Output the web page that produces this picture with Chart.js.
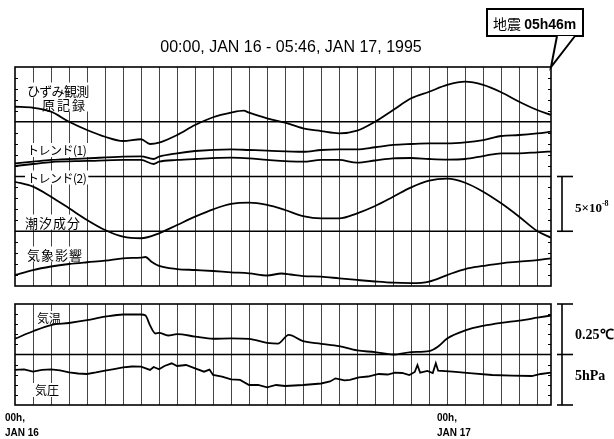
<!DOCTYPE html>
<html>
<head>
<meta charset="utf-8">
<script src="https://cdn.jsdelivr.net/npm/chart.js@4.4.1/dist/chart.umd.min.js"></script>
<style>
  body { margin: 0; background: #fff; }
  #wrap { position: relative; width: 614px; height: 439px; overflow: hidden; }
  canvas { position: absolute; left: 0; top: 0; }
  .t { position: absolute; white-space: nowrap; line-height: 1; color: #000; transform: translateY(-50%); }
  .jp { font-family: "Noto Sans CJK JP", sans-serif; font-size: 13px; }
  .sc { font-family: "Liberation Serif", serif; font-weight: bold; font-size: 14px; }
  .dt { font-family: "Liberation Sans", Arial, sans-serif; font-weight: bold; font-size: 10px; line-height: 15px; transform: none; }
  #title { font-family: "Liberation Sans", sans-serif; font-size: 16px; transform: translate(-50%, -50%); }
  #quake { font-size: 14px; }
  #quake b { font-family: "Liberation Sans", sans-serif; font-size: 14px; }
</style>
</head>
<body>
<div id="wrap">
  <canvas id="topChart" width="614" height="439"></canvas>
  <canvas id="botChart" width="614" height="439"></canvas>

  <div class="t" id="title" style="left:291px; top:47px;">00:00, JAN 16 - 05:46, JAN 17, 1995</div>
  <div class="t jp" id="quake" style="left:493px; top:23px;">地震 <b>05h46m</b></div>

  <div class="t jp mask" style="left:27px; top:90px; letter-spacing:-0.7px;">ひずみ観測</div>
  <div class="t jp mask" style="left:42px; top:104px; letter-spacing:2px;">原記録</div>
  <div class="t jp mask" style="left:27px; top:150px; font-size:12px; letter-spacing:-0.5px;">トレンド(1)</div>
  <div class="t jp mask" style="left:27px; top:177.5px; font-size:12px; letter-spacing:-0.5px;">トレンド(2)</div>
  <div class="t jp mask" style="left:25px; top:222px; letter-spacing:1px;">潮汐成分</div>
  <div class="t jp mask" style="left:27px; top:254px; letter-spacing:1px;">気象影響</div>
  <div class="t jp mask" style="left:37px; top:318px; font-size:12px;">気温</div>
  <div class="t jp mask" style="left:35px; top:390px; font-size:12px;">気圧</div>

  <div class="t sc" style="left:575px; top:207px; font-size:13px;">5×10<sup style="font-size:8px;">-8</sup></div>
  <div class="t sc" style="left:575px; top:335px;">0.25℃</div>
  <div class="t sc" style="left:575px; top:376px;">5hPa</div>

  <div class="t dt" style="left:5px; top:410px;">00h,<br>JAN 16</div>
  <div class="t dt" style="left:437px; top:410px;">00h,<br>JAN 17</div>
</div>

<script>
var END_HOUR = 29 + 46 / 60;

// strain traces, in units of 1e-8 (top panel 0..20, one band = 5)
var rawHours = [0, 1, 2, 3, 4, 5, 6, 7, 7.5, 8, 9, 10, 11, 12, 12.7, 13, 14, 15, 16, 17, 18, 19, 20, 21, 22, 23, 24, 25, 26, 27, 28, 29, END_HOUR];
var rawValues = [16.37, 16.28, 15.92, 15.00, 14.25, 13.63, 13.24, 13.40, 12.97, 13.09, 13.79, 14.70, 15.41, 15.83, 16.01, 15.83, 15.31, 14.91, 14.40, 14.15, 13.94, 14.18, 15.00, 16.07, 17.14, 17.74, 18.36, 18.66, 18.36, 17.69, 16.83, 16.07, 15.62];

var trendHours = [0, 1, 2, 4, 6, 7, 7.7, 8, 9, 10, 12, 13, 14, 16, 17, 18, 19, 20, 21, 22, 23, 24, 25, 26, 27, 28, 29, END_HOUR];
var trend1Values = [11.19, 11.35, 11.51, 11.66, 11.81, 11.83, 11.60, 11.81, 12.12, 12.33, 12.48, 12.42, 12.36, 12.26, 12.42, 12.48, 12.48, 12.67, 12.88, 12.97, 13.03, 13.03, 13.12, 13.33, 13.70, 13.79, 13.94, 14.09];
var trend2Values = [10.96, 11.14, 11.32, 11.42, 11.51, 11.51, 11.14, 11.35, 11.51, 11.60, 11.72, 11.66, 11.51, 11.35, 11.51, 11.51, 11.26, 11.46, 11.66, 11.69, 11.60, 11.55, 11.60, 11.87, 12.12, 12.12, 12.21, 12.28];

var tideHours = [0, 1, 2, 3, 4, 5, 6, 7, 8, 9, 10, 11, 12, 13, 14, 15, 16, 17, 18, 19, 20, 21, 22, 23, 24, 25, 26, 27, 28, 29, END_HOUR];
var tideValues = [9.52, 9.07, 8.15, 7.10, 6.03, 5.11, 4.50, 4.36, 4.81, 5.57, 6.33, 7.00, 7.49, 7.61, 7.40, 6.94, 6.39, 6.18, 6.18, 6.64, 7.31, 8.15, 9.01, 9.62, 9.80, 9.43, 8.61, 7.55, 6.33, 5.02, 4.41];

var weatherHours = [0, 1, 2, 3, 4, 5, 6, 7, 7.25, 7.6, 8, 9, 10, 11, 12, 13, 14, 14.8, 15.3, 16, 17, 18, 19, 20, 21, 22, 23, 24, 25, 26, 27, 28, 29, END_HOUR];
var weatherValues = [1.00, 1.46, 1.78, 2.01, 2.17, 2.31, 2.53, 2.60, 2.65, 2.19, 1.83, 1.55, 1.46, 1.37, 1.25, 1.16, 0.96, 1.14, 1.05, 0.91, 0.85, 0.70, 0.55, 0.41, 0.30, 0.27, 0.41, 1.00, 1.55, 1.83, 2.07, 2.22, 2.37, 2.53];

// air temperature, degC above the panel midline (one band = 0.25 degC)
var tempHours = [0, 1, 2, 3, 4, 5, 6, 7, 7.25, 7.5, 7.8, 8, 8.5, 9, 10, 11, 12, 13, 14, 14.6, 15.2, 16, 17, 18, 19, 20, 21, 22, 23, 23.5, 24, 25, 26, 27, 28, 29, END_HOUR];
var tempValues = [0.078, 0.115, 0.146, 0.156, 0.170, 0.187, 0.198, 0.198, 0.193, 0.144, 0.104, 0.107, 0.094, 0.101, 0.089, 0.078, 0.080, 0.077, 0.058, 0.054, 0.097, 0.066, 0.053, 0.041, 0.020, 0.012, 0.000, 0.012, 0.017, 0.040, 0.079, 0.119, 0.142, 0.157, 0.168, 0.182, 0.193];

// air pressure, hPa above the panel bottom (one band = 5 hPa)
var presHours = [0, 0.5, 1, 1.5, 2, 2.5, 3, 3.5, 4, 4.5, 5, 5.5, 6, 6.5, 7, 7.3, 7.5, 7.7, 8, 8.3, 8.7, 9, 9.5, 10, 10.5, 10.8, 11, 11.5, 12, 12.5, 13, 13.5, 14, 14.5, 15, 15.5, 16, 17, 17.5, 17.8, 18.3, 18.6, 19.1, 19.6, 20.2, 20.7, 21.1, 21.5, 21.9, 22.2, 22.35, 22.5, 22.9, 23.2, 23.37, 23.5, 24.3, 25.4, 26.5, 27.6, 28.7, 29.2, END_HOUR];
var presValues = [3.47, 3.53, 3.30, 3.47, 3.53, 3.42, 3.24, 3.12, 3.07, 3.22, 3.40, 3.56, 3.73, 3.81, 3.79, 3.61, 3.47, 3.76, 3.53, 3.86, 4.13, 3.86, 3.96, 3.63, 3.30, 3.51, 2.97, 2.80, 2.54, 2.48, 1.98, 1.98, 1.75, 1.98, 1.88, 1.93, 1.98, 2.13, 2.33, 2.64, 2.43, 2.48, 2.74, 2.82, 3.07, 3.02, 3.20, 3.17, 2.97, 3.27, 3.96, 3.20, 3.37, 3.17, 4.13, 3.40, 3.30, 3.14, 2.97, 2.90, 2.87, 3.07, 3.20];

function pairs(hours, values, f) {
  return hours.map(function(h, i) {
    return { x: h, y: f ? f(values[i]) : values[i] };
  });
}

// white boxes behind the labels that sit inside the panels
var masks = [];
document.querySelectorAll('.mask').forEach(function(el) {
  var r = el.getBoundingClientRect();
  masks.push([r.left - 2, r.top - 1, r.width + 4, r.height + 2]);
});

var gridPlugin = {
  id: 'grid',
  beforeDatasetsDraw: function(chart, args, opts) {
    var ctx = chart.ctx, a = chart.chartArea, x = chart.scales.x, y = chart.scales.y;
    ctx.save();
    ctx.beginPath();
    ctx.rect(a.left, a.top, a.width, a.height);
    ctx.clip();
    ctx.strokeStyle = '#444';
    ctx.lineWidth = 1;
    for (var h = 1; h <= 29; h++) {
      var px = Math.round(x.getPixelForValue(h)) + 0.5;
      ctx.beginPath(); ctx.moveTo(px, a.top); ctx.lineTo(px, a.bottom); ctx.stroke();
    }
    ctx.strokeStyle = '#000';
    for (var v = 1; v < y.max; v++) {
      if (v % opts.band === 0) continue;
      var py = Math.round(y.getPixelForValue(v)) + 0.5;
      ctx.beginPath(); ctx.moveTo(a.left, py); ctx.lineTo(a.left + 3, py); ctx.stroke();
      ctx.beginPath(); ctx.moveTo(a.right - 3, py); ctx.lineTo(a.right, py); ctx.stroke();
    }
    ctx.lineWidth = 1.6;
    for (var b = opts.band; b < y.max; b += opts.band) {
      var by = y.getPixelForValue(b);
      ctx.beginPath(); ctx.moveTo(a.left, by); ctx.lineTo(a.right, by); ctx.stroke();
    }
    ctx.fillStyle = '#fff';
    masks.forEach(function(m) { ctx.fillRect(m[0], m[1], m[2], m[3]); });
    ctx.restore();
  },
  afterDraw: function(chart, args, opts) {
    var ctx = chart.ctx, a = chart.chartArea, y = chart.scales.y;
    ctx.save();
    ctx.strokeStyle = '#000';
    ctx.lineWidth = 1.6;
    ctx.strokeRect(a.left, a.top, a.width, a.height);
    // scale bar on the right
    var bx = 562;
    var ys = opts.bar.map(function(v) { return y.getPixelForValue(v); });
    ctx.beginPath(); ctx.moveTo(bx, ys[0]); ctx.lineTo(bx, ys[ys.length - 1]); ctx.stroke();
    ys.forEach(function(py) {
      ctx.beginPath(); ctx.moveTo(bx - 5, py); ctx.lineTo(bx + 11, py); ctx.stroke();
    });
    if (opts.callout) {
      ctx.lineWidth = 2;
      ctx.fillStyle = '#fff';
      ctx.fillRect(487, 9, 96, 27);
      ctx.strokeRect(487, 9, 96, 27);
      var tipX = chart.scales.x.getPixelForValue(END_HOUR);
      ctx.beginPath();
      ctx.moveTo(557, 36); ctx.lineTo(tipX, a.top); ctx.lineTo(575, 36);
      ctx.closePath();
      ctx.fill();
      ctx.beginPath();
      ctx.moveTo(557, 36); ctx.lineTo(tipX, a.top); ctx.lineTo(575, 36);
      ctx.stroke();
    }
    ctx.restore();
  }
};

function lineSet(data, tension) {
  return {
    data: data,
    borderColor: '#000',
    borderWidth: 1.8,
    pointRadius: 0,
    tension: tension,
    cubicInterpolationMode: tension ? 'monotone' : 'default'
  };
}

function panelOptions(padTop, padBottom, yMax, band, bar, callout) {
  return {
    responsive: false,
    animation: false,
    devicePixelRatio: 1,
    layout: { padding: { left: 15, right: 63, top: padTop, bottom: padBottom } },
    plugins: {
      legend: { display: false },
      tooltip: { enabled: false },
      grid: { band: band, bar: bar, callout: callout }
    },
    scales: {
      x: { type: 'linear', min: 0, max: END_HOUR, display: false },
      y: { min: 0, max: yMax, display: false }
    }
  };
}

new Chart(document.getElementById('topChart'), {
  type: 'line',
  data: {
    datasets: [
      lineSet(pairs(rawHours, rawValues), 0.4),
      lineSet(pairs(trendHours, trend1Values), 0.4),
      lineSet(pairs(trendHours, trend2Values), 0.4),
      lineSet(pairs(tideHours, tideValues), 0.4),
      lineSet(pairs(weatherHours, weatherValues), 0.4)
    ]
  },
  options: panelOptions(67, 153, 20, 5, [10, 5], true),
  plugins: [gridPlugin]
});

new Chart(document.getElementById('botChart'), {
  type: 'line',
  data: {
    datasets: [
      lineSet(pairs(tempHours, tempValues, function(t) { return 5 + t / 0.25 * 5; }), 0.3),
      lineSet(pairs(presHours, presValues), 0)
    ]
  },
  options: panelOptions(304, 34, 10, 5, [10, 5, 0], false),
  plugins: [gridPlugin]
});
</script>
</body>
</html>
